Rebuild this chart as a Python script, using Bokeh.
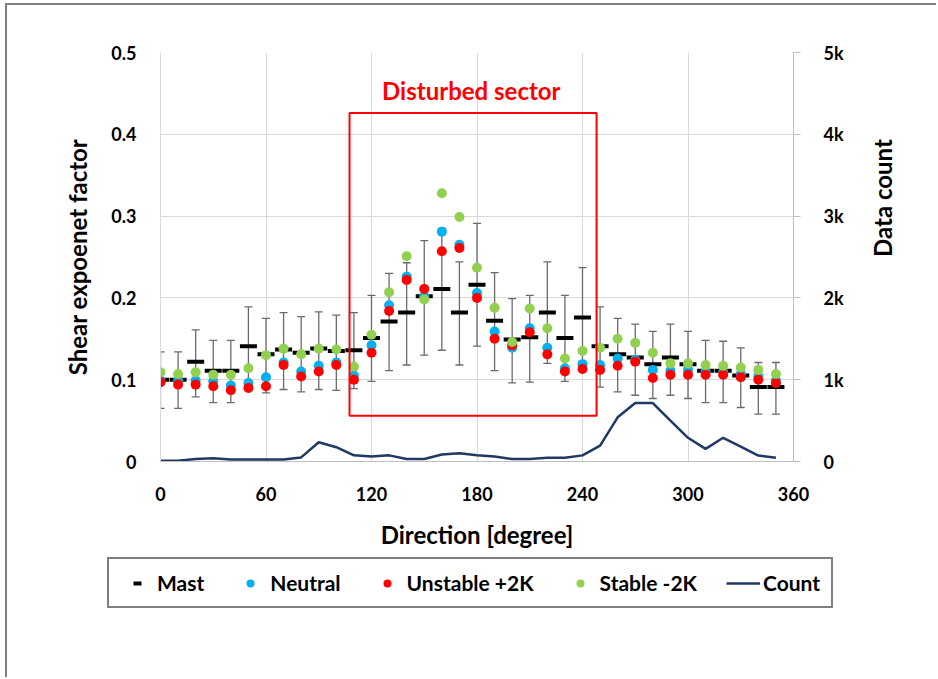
import math
from bokeh.plotting import figure
from bokeh.models import (Range1d, LinearAxis, ColumnDataSource, Whisker, TeeHead,
                          Legend, LegendItem, Label, BoxAnnotation)
from bokeh.embed import file_html
from bokeh.resources import INLINE

# ---------------- data ----------------
direction = [0, 10, 20, 30, 40, 50, 60, 70, 80, 90, 100, 110, 120, 130, 140, 150, 160, 170,
             180, 190, 200, 210, 220, 230, 240, 250, 260, 270, 280, 290, 300, 310, 320, 330, 340, 350]
mast = [0.100, 0.100, 0.122, 0.111, 0.111, 0.141, 0.131, 0.137, 0.133, 0.138, 0.135, 0.136,
        0.151, 0.171, 0.182, 0.202, 0.211, 0.182, 0.216, 0.172, 0.149, 0.152, 0.182, 0.151,
        0.176, 0.141, 0.131, 0.127, 0.119, 0.127, 0.119, 0.111, 0.111, 0.105, 0.091, 0.091]
mast_upper = [0.134, 0.134, 0.161, 0.148, 0.148, 0.189, 0.175, 0.182, 0.177, 0.183, 0.179, 0.182,
              0.203, 0.230, 0.243, 0.270, 0.285, 0.244, 0.291, 0.231, 0.199, 0.203, 0.244, 0.203,
              0.237, 0.189, 0.175, 0.168, 0.159, 0.168, 0.159, 0.148, 0.147, 0.139, 0.121, 0.121]
mast_lower = [0.065, 0.065, 0.079, 0.072, 0.072, 0.093, 0.084, 0.088, 0.085, 0.088, 0.087, 0.089,
              0.098, 0.111, 0.118, 0.130, 0.136, 0.118, 0.141, 0.111, 0.096, 0.097, 0.120, 0.098,
              0.116, 0.091, 0.085, 0.081, 0.077, 0.081, 0.077, 0.072, 0.072, 0.066, 0.058, 0.058]
neutral = [0.099, 0.099, 0.099, 0.098, 0.093, 0.096, 0.103, 0.121, 0.110, 0.117, 0.121, 0.105,
           0.142, 0.191, 0.226, 0.202, 0.281, 0.265, 0.206, 0.159, 0.139, 0.163, 0.139, 0.114,
           0.119, 0.118, 0.126, 0.124, 0.112, 0.111, 0.112, 0.110, 0.109, 0.107, 0.104, 0.099]
unstable = [0.097, 0.094, 0.094, 0.092, 0.087, 0.090, 0.092, 0.118, 0.104, 0.110, 0.118, 0.100,
            0.133, 0.184, 0.222, 0.211, 0.257, 0.261, 0.200, 0.150, 0.142, 0.158, 0.131, 0.110,
            0.113, 0.112, 0.117, 0.122, 0.102, 0.106, 0.106, 0.106, 0.106, 0.103, 0.100, 0.096]
stable = [0.109, 0.107, 0.109, 0.106, 0.106, 0.114, 0.130, 0.138, 0.131, 0.138, 0.137, 0.116,
          0.155, 0.207, 0.251, 0.198, 0.328, 0.299, 0.237, 0.188, 0.146, 0.187, 0.163, 0.126,
          0.135, 0.139, 0.150, 0.145, 0.133, 0.120, 0.120, 0.118, 0.117, 0.115, 0.112, 0.107]
count = [10, 10, 30, 40, 25, 25, 25, 25, 50, 235, 175, 75, 60, 75, 30, 30, 85, 100,
         75, 60, 30, 30, 45, 45, 75, 195, 540, 715, 715, 500, 290, 155, 290, 183, 73, 45]

x_ticks = [0, 60, 120, 180, 240, 300, 360]
y_ticks = [0, 0.1, 0.2, 0.3, 0.4, 0.5]
y_tick_labels = ["0", "0.1", "0.2", "0.3", "0.4", "0.5"]
count_ticks = [0, 1000, 2000, 3000, 4000, 5000]
count_tick_labels = ["0", "1k", "2k", "3k", "4k", "5k"]

sector_start, sector_end = 107.5, 248
sector_bottom, sector_top = 0.056, 0.426
sector_label = "Disturbed sector"

series_names = ["Mast", "Neutral", "Unstable +2K", "Stable -2K", "Count"]
series_colors = ["black", "#00B0F0", "#FF0000", "#92D050", "#1F3864"]

FONT = "Lato"
BORDER = "2px solid #808080"

src = ColumnDataSource(dict(direction=direction, mast=mast, upper=mast_upper, lower=mast_lower,
                            neutral=neutral, unstable=unstable, stable=stable, count=count))


def add_series(fig, y_count_range=None):
    r1 = fig.scatter("direction", "mast", source=src, marker="dash", size=17,
                     line_color=series_colors[0], line_width=4)
    r2 = fig.scatter("direction", "neutral", source=src, marker="circle", size=10,
                     fill_color=series_colors[1], line_color=None)
    r3 = fig.scatter("direction", "unstable", source=src, marker="circle", size=10,
                     fill_color=series_colors[2], line_color=None)
    r4 = fig.scatter("direction", "stable", source=src, marker="circle", size=10,
                     fill_color=series_colors[3], line_color=None)
    kw = {"y_range_name": y_count_range} if y_count_range else {}
    r5 = fig.line("direction", "count", source=src, line_color=series_colors[4],
                  line_width=2.5, **kw)
    return [r1, r2, r3, r4, r5]


# ---------------- main chart ----------------
# canvas starts at (7, 5): 5px/3px margin + 2px chart-area border
p = figure(width=931, height=550, output_backend="svg", toolbar_location=None,
           x_range=Range1d(0, 360), y_range=Range1d(0, 0.5),
           min_border_left=153, min_border_right=145, min_border_top=47, min_border_bottom=94)
p.margin = (3, 0, 0, 5)
p.styles = {"border-left": BORDER, "border-top": BORDER}
p.outline_line_color = None
p.background_fill_color = "white"
p.border_fill_color = "white"

p.xgrid.grid_line_color = "#d9d9d9"
p.ygrid.grid_line_color = "#d9d9d9"

p.yaxis.ticker = y_ticks
p.yaxis.major_label_overrides = {t: l for t, l in zip(y_ticks, y_tick_labels)}
p.yaxis.axis_label = "Shear expoenet factor"
p.yaxis.axis_line_color = "#d9d9d9"
p.yaxis.major_tick_line_color = None
p.yaxis.minor_tick_line_color = None
p.yaxis.major_label_standoff = 18
p.yaxis.axis_label_standoff = 16

p.xaxis.ticker = x_ticks
p.xaxis.axis_label = "Direction [degree]"
p.xaxis.axis_line_color = "#bfbfbf"
p.xaxis.major_tick_line_color = None
p.xaxis.minor_tick_line_color = None
p.xaxis.major_label_standoff = 19
p.xaxis.axis_label_standoff = 16

p.extra_y_ranges = {"count": Range1d(0, 5000)}
ax_r = LinearAxis(y_range_name="count", ticker=count_ticks,
                  major_label_overrides={t: l for t, l in zip(count_ticks, count_tick_labels)},
                  axis_label="Data count")
ax_r.axis_line_color = "#bfbfbf"
ax_r.major_tick_line_color = "#bfbfbf"
ax_r.major_tick_out = 7
ax_r.major_tick_in = 0
ax_r.minor_tick_line_color = None
ax_r.major_label_standoff = 23
ax_r.axis_label_standoff = 36
if hasattr(ax_r, "axis_label_orientation"):
    ax_r.axis_label_orientation = math.pi / 2
p.add_layout(ax_r, "right")

for ax in [p.xaxis[0], p.yaxis[0], ax_r]:
    ax.major_label_text_font = FONT
    ax.major_label_text_font_style = "bold"
    ax.major_label_text_font_size = "18px"
    ax.major_label_text_color = "black"
    ax.axis_label_text_font = FONT
    ax.axis_label_text_font_style = "bold"
    ax.axis_label_text_font_size = "24px"
    ax.axis_label_text_color = "black"

wh = Whisker(source=src, base="direction", upper="upper", lower="lower",
             line_color="#6b6b6b", line_width=1.3,
             upper_head=TeeHead(size=8, line_color="#6b6b6b", line_width=1.3),
             lower_head=TeeHead(size=8, line_color="#6b6b6b", line_width=1.3))
p.add_layout(wh)

add_series(p, "count")

box = BoxAnnotation(left=sector_start, right=sector_end, bottom=sector_bottom, top=sector_top,
                    fill_alpha=0, fill_color=None, line_color="red", line_width=2, line_alpha=1)
p.add_layout(box)
p.add_layout(Label(x=(sector_start + sector_end) / 2 - 1, y=0.454, text=sector_label,
                   text_align="center", text_baseline="middle", text_color="red",
                   text_font=FONT, text_font_style="bold", text_font_size="24px"))

# ---------------- legend strip (series drawn out of view; only the legend shows) ----------------
q = figure(width=931, height=124, output_backend="svg", toolbar_location=None,
           x_range=Range1d(0, 360), y_range=Range1d(-2, -1),
           x_axis_type=None, y_axis_type=None, min_border=0)
q.margin = (0, 0, 0, 5)
q.styles = {"border-left": BORDER}
q.outline_line_color = None
q.grid.visible = False
q.background_fill_color = "white"
q.border_fill_color = "white"

legend_renderers = add_series(q)

legend = Legend(items=[LegendItem(label=n, renderers=[r])
                       for n, r in zip(series_names, legend_renderers)],
                orientation="horizontal", location=(100, 69),
                label_text_font=FONT, label_text_font_style="bold", label_text_font_size="21px",
                label_text_color="black", glyph_width=34, glyph_height=20, label_standoff=3,
                spacing=29, padding=11, margin=0,
                border_line_color="black", border_line_width=2, background_fill_alpha=1)
q.add_layout(legend)

open("out.html", "w").write(file_html([p, q], INLINE))
